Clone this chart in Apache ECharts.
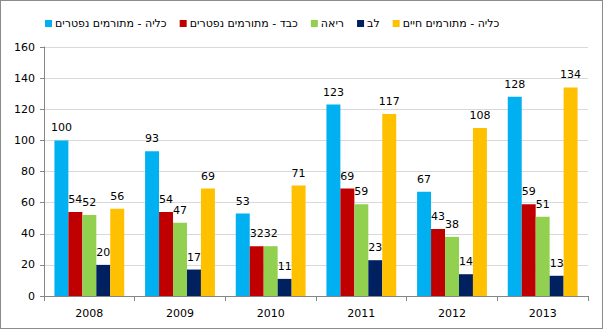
<!DOCTYPE html>
<html><head><meta charset="utf-8">
<script src="https://cdn.jsdelivr.net/npm/echarts@6/dist/echarts.min.js"></script>
<style>
html,body{margin:0;padding:0;background:#fff;}
#frame{width:603px;height:329px;box-sizing:border-box;border:1px solid #8c8c8c;position:relative;}
#c{position:absolute;left:-1px;top:-1px;width:603px;height:329px;}
</style></head>
<body><div id="frame"><div id="c"></div></div>
<script>
const categories = ['2008','2009','2010','2011','2012','2013'];
const seriesNames = ['כליה - מתורמים נפטרים','כבד - מתורמים נפטרים','ריאה','לב','כליה - מתורמים חיים'];
const kidneyDeceased = [100, 93, 53, 123, 67, 128];
const liverDeceased = [54, 54, 32, 69, 43, 59];
const lung = [52, 47, 32, 59, 38, 51];
const heart = [20, 17, 11, 23, 14, 13];
const kidneyLiving = [56, 69, 71, 117, 108, 134];
const yTicks = {min: 0, max: 160, interval: 20};

const colors = ['#00B0F0','#C00000','#92D050','#002060','#FFC000'];
const values = [kidneyDeceased, liverDeceased, lung, heart, kidneyLiving];
const font = 'DejaVu Sans';
const chart = echarts.init(document.getElementById('c'), null, {renderer: 'svg'});
chart.setOption({
  animation: false,
  color: colors,
  textStyle: {fontFamily: font},
  legend: {
    left: 40, top: 13, itemWidth: 7, itemHeight: 7, itemGap: 13,
    icon: 'rect',
    textStyle: {fontSize: 11, color: '#000', fontFamily: font, padding: [0,0,0,-2]},
    data: seriesNames
  },
  grid: {left: 44, right: 15, top: 47, bottom: 33, containLabel: false},
  xAxis: {
    type: 'category', data: categories,
    axisLine: {lineStyle: {color: '#868686'}},
    axisTick: {show: true, length: 5, lineStyle: {color: '#868686'}},
    axisLabel: {color: '#000', fontSize: 11, margin: 12, fontFamily: font}
  },
  yAxis: {
    type: 'value', min: yTicks.min, max: yTicks.max, interval: yTicks.interval,
    axisLine: {show: true, lineStyle: {color: '#868686'}},
    axisTick: {show: true, length: 4, lineStyle: {color: '#868686'}},
    axisLabel: {color: '#000', fontSize: 11, margin: 9, fontFamily: font},
    splitLine: {lineStyle: {color: '#d9d9d9'}}
  },
  series: seriesNames.map((n, i) => ({
    name: n, type: 'bar', data: values[i],
    barGap: '0%', barCategoryGap: '23%',
    label: {show: true, position: 'top', distance: 7, color: '#000', fontSize: 11, fontFamily: font}
  }))
});
</script></body></html>
